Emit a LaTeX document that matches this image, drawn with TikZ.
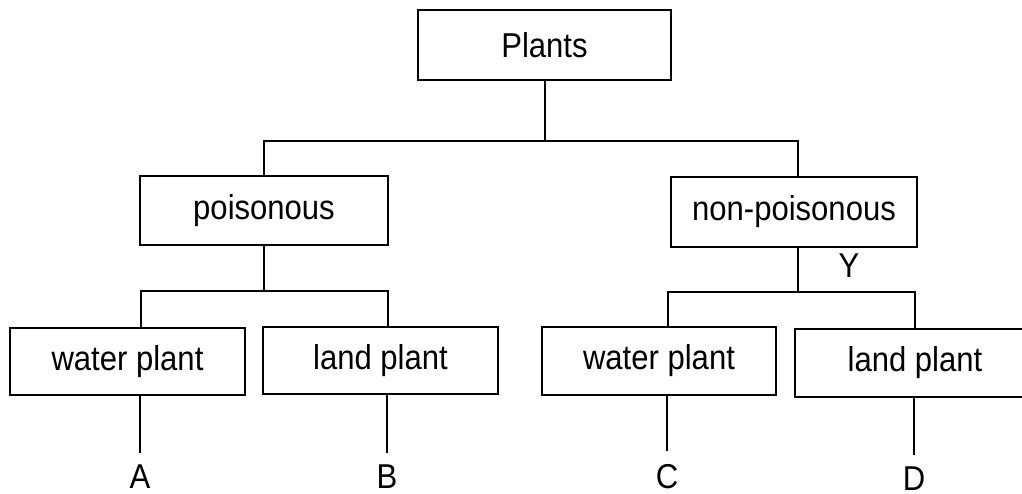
\documentclass[tikz,border=0pt]{standalone}
\usepackage{fontspec}
\setmainfont{Liberation Sans}[FakeStretch=0.9]
\begin{document}
\begin{tikzpicture}[x=1pt,y=-1pt,
  every node/.style={font=\fontsize{34.5}{40}\selectfont},
  box/.style={draw,line width=2pt,rectangle,inner sep=0pt},
  lbl/.style={inner sep=2pt},
  conn/.style={line width=2pt}]
\useasboundingbox[fill=white] (0,0) rectangle (1022,494);
% boxes
\node[box,minimum width=253pt,minimum height=70pt] (plants) at (544.5,45) {Plants};
\node[box,minimum width=248pt,minimum height=69pt] (pois) at (264,210.5) {poisonous};
\node[box,minimum width=246pt,minimum height=70pt] (nonp) at (794,212) {non-poisonous};
\node[box,minimum width=235pt,minimum height=67pt] (w1) at (127.5,361.5) {water plant};
\node[box,minimum width=235pt,minimum height=67pt] (l1) at (380.5,360.5) {land plant};
\node[box,minimum width=234pt,minimum height=68pt] (w2) at (659,361) {water plant};
\node[box,minimum width=240pt,minimum height=68pt] (l2) at (915,363) {land plant};
% labels
\node[lbl] (A) at (140,477) {A};
\node[lbl] (B) at (387,477) {B};
\node[lbl] (C) at (667,477) {C};
\node[lbl] (D) at (914,479) {D};
\node[lbl] (Y) at (849,266) {Y};
% junctions
\coordinate (jl) at (264,141);
\coordinate (jr) at (798,141);
\coordinate (p1) at (141,291);
\coordinate (p2) at (388,291);
\coordinate (n0) at (798,292);
\coordinate (n1) at (668,292);
\coordinate (n2) at (915,292);
% connectors
\draw[conn] (plants.south) -- (plants.south |- jl);
\draw[conn] (pois.north) -- (jl) -- (jr) -- (jr |- nonp.north);
\draw[conn] (pois.south) -- (pois.south |- p1);
\draw[conn] (w1.north -| p1) -- (p1) -- (p2) -- (l1.north -| p2);
\draw[conn] (nonp.south -| n0) -- (n0);
\draw[conn] (w2.north -| n1) -- (n1) -- (n2) -- (l2.north -| n2);
\draw[conn,shorten >=10pt] (w1.south -| A) -- (A.north);
\draw[conn,shorten >=10pt] (l1.south -| B) -- (B.north);
\draw[conn,shorten >=12pt] (w2.south -| C) -- (C.north);
\draw[conn,shorten >=10pt] (l2.south -| D) -- (D.north);
\end{tikzpicture}
\end{document}
